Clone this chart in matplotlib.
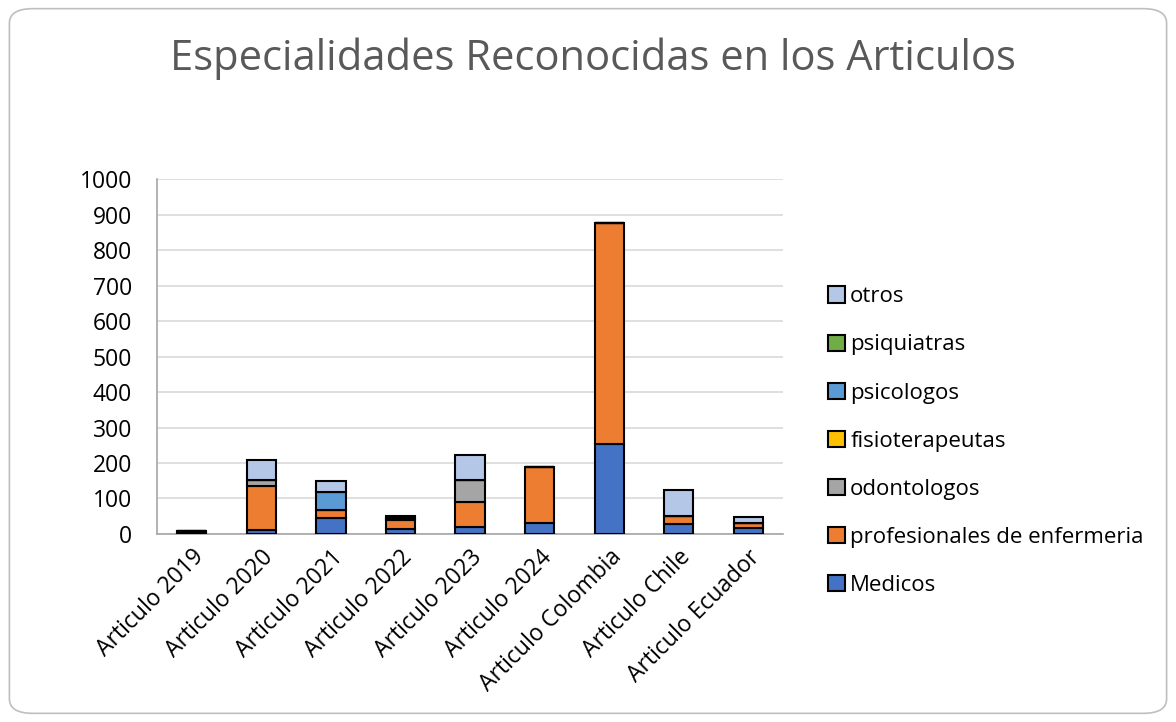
import numpy as np
import matplotlib
matplotlib.use("Agg")
import matplotlib.pyplot as plt
from matplotlib.patches import FancyBboxPatch

# ── data ─────────────────────────────────────────────
categories = ["Articulo 2019", "Articulo 2020", "Articulo 2021", "Articulo 2022",
              "Articulo 2023", "Articulo 2024", "Articulo Colombia",
              "Articulo Chile", "Articulo Ecuador"]

medicos = [4, 11, 44, 14, 20, 31, 254, 29, 18]
enfermeria = [4, 124, 24, 26, 71, 157, 622, 23, 12]
odontologos = [0, 18, 0, 5, 60, 0, 0, 0, 0]
fisioterapeutas = [0, 0, 0, 0, 0, 0, 0, 0, 0]
psicologos = [0, 0, 51, 0, 0, 0, 0, 0, 0]
psiquiatras = [0, 0, 0, 0, 0, 0, 0, 0, 0]
otros = [0, 55, 30, 5, 71, 0, 0, 72, 18]

series = [
    ("Medicos", medicos, "#4472C4"),
    ("profesionales de enfermeria", enfermeria, "#ED7D31"),
    ("odontologos", odontologos, "#A5A5A5"),
    ("fisioterapeutas", fisioterapeutas, "#FFC000"),
    ("psicologos", psicologos, "#5B9BD5"),
    ("psiquiatras", psiquiatras, "#70AD47"),
    ("otros", otros, "#B4C7E7"),
]

plt.rcParams['font.family'] = ['Open Sans', 'DejaVu Sans']

fig = plt.figure(figsize=(11.76, 7.22), dpi=100)

# rounded outer border
border = FancyBboxPatch((0.008, 0.012), 0.984, 0.976,
                        boxstyle="round,pad=0,rounding_size=0.02",
                        transform=fig.transFigure, facecolor="white",
                        edgecolor="#BFBFBF", linewidth=1.2, zorder=-1)
fig.patches.append(border)

ax = fig.add_axes([0.1335, 0.2604, 0.5325, 0.4916])
x = np.arange(len(categories))
bottom = np.zeros(len(categories))
handles = []
for name, vals, color in series:
    vals = np.array(vals, dtype=float)
    b = ax.bar(x, vals, bottom=bottom, width=0.42, color=color,
               edgecolor="black", linewidth=1.5, label=name, zorder=3)
    bottom += vals
    handles.append(b)

ax.set_ylim(0, 1000)
ax.set_xlim(-0.5, len(categories) - 0.5)
ax.set_yticks(np.arange(0, 1001, 100))
ax.yaxis.grid(True, color="#D9D9D9", linewidth=1.2, zorder=0)
ax.set_axisbelow(True)
for s in ["top", "right"]:
    ax.spines[s].set_visible(False)
ax.spines["left"].set_color("#A6A6A6")
ax.spines["bottom"].set_color("#A6A6A6")
ax.spines["left"].set_linewidth(1.2)
ax.spines["bottom"].set_linewidth(1.2)
ax.tick_params(axis="both", length=0, labelsize=16.5, colors="black")
ax.tick_params(axis="y", pad=18)
ax.tick_params(axis="x", pad=8)
ax.set_xticks(x)
ax.set_xticklabels(categories, rotation=45, ha="right", rotation_mode="anchor")

fig.text(0.504, 0.918, "Especialidades Reconocidas en los Articulos",
         ha="center", va="center", fontsize=30, color="#595959")

leg = fig.legend(handles[::-1], [s[0] for s in series][::-1],
                 loc="center left", bbox_to_anchor=(0.687, 0.389),
                 frameon=False, fontsize=16, handlelength=0.75,
                 handleheight=0.75, handletextpad=0.25, labelspacing=1.22)

fig.savefig("out.png", dpi=100)
